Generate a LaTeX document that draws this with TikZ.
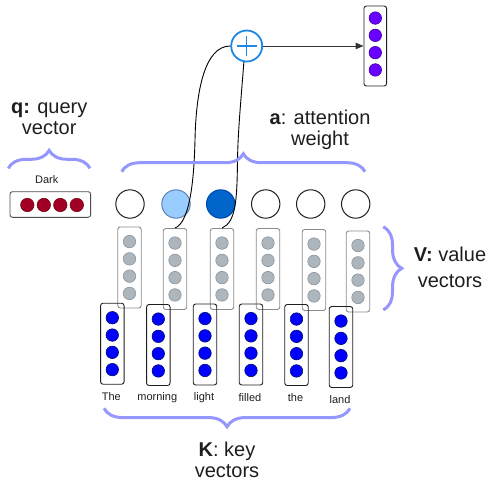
\documentclass[tikz,border=0pt]{standalone}
\usepackage{fontspec}
\setmainfont{Liberation Sans}
\usetikzlibrary{decorations.pathreplacing,arrows.meta,calc}
\definecolor{bracec}{RGB}{150,150,255}
\definecolor{plusc}{RGB}{30,136,229}
\definecolor{qred}{RGB}{162,0,37}
\definecolor{qredd}{RGB}{110,0,20}
\definecolor{kblue}{RGB}{0,0,255}
\definecolor{kblued}{RGB}{0,16,110}
\definecolor{opurp}{RGB}{106,0,255}
\definecolor{opurpd}{RGB}{60,0,170}
\definecolor{vgray}{RGB}{173,181,189}
\definecolor{vgrayd}{RGB}{140,148,156}
\definecolor{lblue}{RGB}{153,204,255}
\definecolor{lblued}{RGB}{95,130,170}
\definecolor{dblue}{RGB}{0,102,204}
\definecolor{dblued}{RGB}{0,70,170}
\definecolor{txt}{RGB}{30,30,30}
\begin{document}
\begin{tikzpicture}[x=1pt,y=-1pt]
\useasboundingbox (0,0) rectangle (491,482);
\tikzset{
  vecbox/.style={draw=#1, rounded corners=2.5pt, minimum width=23.5pt, minimum height=81pt, inner sep=0pt, line width=0.9pt},
  dotnode/.style={circle, inner sep=0pt, minimum size=12.5pt, line width=0.6pt},
  attn/.style={circle, inner sep=0pt, minimum size=28.4pt, line width=1pt},
  brc/.style={draw=bracec, line width=3pt, decorate, decoration={brace, amplitude=18pt}},
  lbl/.style={font=\fontsize{20}{21}\selectfont, align=center, text=txt, anchor=base, inner sep=0pt},
  word/.style={font=\fontsize{11}{13}\selectfont, text=txt, inner sep=0pt}
}
% value vectors
\foreach \i/\x/\y in {1/129.5/267.5, 2/175/269, 3/222/269, 4/268/269, 5/314/270, 6/358/271.5}{
  \node[vecbox=black!45] (v\i) at (\x,\y) {};
  \foreach \d [count=\j] in {-25.95,-8.65,8.65,25.95}
    \node[dotnode, fill=vgray, draw=vgrayd] (v\i d\j) at ($(v\i.center)+(0,\d)$) {};
}
% key vectors
\foreach \i/\x/\y/\w in {1/112.3/343.7/The, 2/158.3/345/morning, 3/205/344.5/light, 4/251/344.5/filled, 5/296.5/345/the, 6/341/347/land}{
  \node[vecbox=txt] (k\i) at (\x,\y) {};
  \foreach \d [count=\j] in {-25.95,-8.65,8.65,25.95}
    \node[dotnode, fill=kblue, draw=kblued] (k\i d\j) at ($(k\i.center)+(0,\d)$) {};
  \node[word] (w\i) at ($(k\i.south)+(-1,11.8)$) {\w};
}
% attention weights
\node[attn, fill=white, draw=txt] (a1) at (130,204) {};
\node[attn, fill=lblue, draw=lblued] (a2) at (176,204) {};
\node[attn, fill=dblue, draw=dblued] (a3) at (220.7,204) {};
\node[attn, fill=white, draw=txt] (a4) at (265.7,204) {};
\node[attn, fill=white, draw=txt] (a5) at (310.7,204) {};
\node[attn, fill=white, draw=txt] (a6) at (355.7,204) {};
% query vector
\node[draw=black!70, rounded corners=2.5pt, minimum width=80.7pt, minimum height=25.6pt, inner sep=0pt, line width=0.9pt] (q) at (50.3,204.5) {};
\foreach \x [count=\j] in {27.3,43.8,60.3,76.8}
  \node[dotnode, minimum size=13.4pt, fill=qred, draw=qredd] (q\j) at (\x,205) {};
\node[word] (dark) at (46.7,180) {Dark};
% output vector
\node[vecbox=txt, minimum height=80pt, minimum width=22.7pt] (out) at (375.3,46) {};
\foreach \d [count=\j] in {-27.95,-10.65,6.65,23.95}
  \node[dotnode, fill=opurp, draw=opurpd] (o\j) at ($(out.center)+(0,\d)$) {};
% plus
\node[circle, draw=plusc, fill=white, line width=1.8pt, minimum size=31pt, inner sep=0pt] (plus) at (246.7,46) {};
\draw[plusc, line width=1.5pt] ($(plus.center)+(-10,0)$) -- ($(plus.center)+(10,0)$);
\draw[plusc, line width=1.5pt] ($(plus.center)+(0,-10)$) -- ($(plus.center)+(0,10)$);
\draw[-{Triangle[length=8pt,width=6.5pt]}, line width=1pt, draw=black!80] (plus.east) -- (out.west);
% curves
\draw[line width=0.9pt] (plus.west) .. controls (205,46) and (196,90) .. (195,140)
   .. controls (194,180) and (190,222) .. (v2.north);
\draw[line width=0.9pt] (plus.260) .. controls (241,100) and (238,130) .. (237.5,160)
   .. controls (237,200) and (236,222) .. (v3.north);
% braces
\draw[brc] (8.3,168.3) -- (90,168.3);
\draw[brc] (121.7,171.7) -- (365,171.7);
\draw[brc, decoration={brace, amplitude=18.5pt}] (350,408.3) -- (104,408.3);
\draw[brc, decoration={brace, amplitude=18.5pt}] (383.3,226.7) -- (383.3,310);
% labels (anchored at the baseline of the last line)
\node[lbl] (ql) at (49.2,134.3) {\textbf{q:} query\\vector};
\node[lbl] (al) at (320,145) {\textbf{a}: attention\\weight};
\node[lbl, font=\fontsize{20}{26}\selectfont] (vl) at (450,287.5) {\textbf{V:} value\\vectors};
\node[lbl] (kl) at (227,477.7) {\textbf{K}: key\\vectors};
\end{tikzpicture}
\end{document}
